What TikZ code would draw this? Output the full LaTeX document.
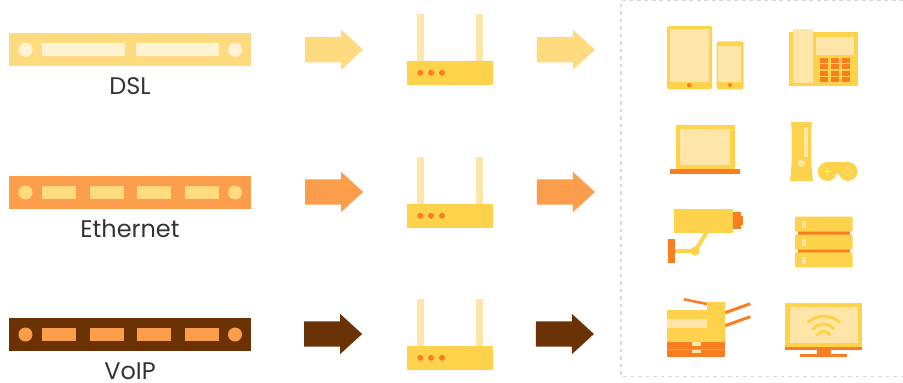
\documentclass[tikz,border=0pt]{standalone}
\usepackage{fontspec}
\setmainfont{Poppins}
\usepackage{tikz}
\usetikzlibrary{shapes.arrows}

\definecolor{sand}{HTML}{FFDA7F}
\definecolor{cream}{HTML}{FFF3D3}
\definecolor{pale}{HTML}{FFE6A8}
\definecolor{sun}{HTML}{FFD24C}
\definecolor{tangerine}{HTML}{FB9D4A}
\definecolor{rust}{HTML}{F97D21}
\definecolor{umber}{HTML}{6B3206}
\definecolor{ink}{HTML}{333333}

\tikzset{
	barbox/.style={rectangle,inner sep=0,minimum width=242pt,minimum height=33pt,fill=#1},
	slotbox/.style={rectangle,inner sep=0,minimum height=13pt,fill=#1},
	hole/.style={circle,inner sep=0,minimum size=14pt,fill=#1},
	barlabel/.style={text=ink,font=\fontsize{24}{24}\selectfont,inner sep=0,node distance=36.3pt},
	flow/.style={single arrow,inner xsep=0,inner ysep=12.5pt,minimum height=58pt,minimum width=40pt,
		single arrow head extend=7.5pt,single arrow tip angle=85,fill=#1},
}

\begin{document}
\begin{tikzpicture}[x=1pt,y=-1pt]
	\useasboundingbox (0,0) rectangle (903,383);

	% dashed frame
	\draw[black!15,line width=1.5pt,dash pattern=on 3.7pt off 3.8pt] (903,0.7) -- (621,0.7) -- (621,376.7) -- (903,376.7);

	% DSL
	\node[barbox=sand] (barDSL) at (130,49.5) {};
	\node[barlabel,below of=barDSL] (labDSL) {DSL};
	\node[hole=cream] (holeDSLa) at (25.5,49.7) {};
	\node[hole=cream] (holeDSLb) at (235,49.7) {};
	\node[slotbox=cream,minimum width=83pt] (slotDSLa) at (83.5,49.7) {};
	\node[slotbox=cream,minimum width=83pt] (slotDSLb) at (177.5,49.7) {};

	% Ethernet
	\node[barbox=tangerine] (barEth) at (130,192.5) {};
	\node[barlabel,below of=barEth] (labEth) {Ethernet};
	\node[hole=sand] (holeEtha) at (25.5,192.5) {};
	\node[hole=sand] (holeEthb) at (235,192.5) {};

	% VoIP
	\node[barbox=umber] (barVoIP) at (130,334.5) {};
	\node[barlabel,below of=barVoIP] (labVoIP) {VoIP};
	\node[hole=tangerine] (holeVoIPa) at (25.5,334.5) {};
	\node[hole=tangerine] (holeVoIPb) at (235,334.5) {};

	\foreach \slotx in {59,107,154,202} {
		\node[slotbox=sand,minimum width=34pt] (slotEth\slotx) at (\slotx,192.5) {};
		\node[slotbox=tangerine,minimum width=34pt] (slotVoIP\slotx) at (\slotx,334.5) {};
	}

	% arrows either side of the routers
	\node[flow=sand] (inDSL) at (327.2,49.7) {};
	\node[flow=sand] (outDSL) at (559,49.7) {};
	\node[flow=tangerine] (inEth) at (327.2,192) {};
	\node[flow=tangerine] (outEth) at (559,192) {};
	\node[flow=umber] (inVoIP) at (326.2,334) {};
	\node[flow=umber] (outVoIP) at (558,334) {};

	% routers
	\foreach \rowy in {0,143,285} {
		\begin{scope}[shift={(0,\rowy)}]
			\fill[pale] (417,13.5) rectangle (424,61);
			\fill[pale] (476,13.5) rectangle (483,61);
			\fill[sun] (407,61) rectangle (493,85);
			\foreach \dotx in {420.3,431,442}
				\fill[rust] (\dotx,72.8) circle (3pt);
		\end{scope}
	}

	% tablet and phone
	\fill[sun,rounded corners=1.5pt] (667,26) rectangle (712,89.3);
	\fill[pale] (670,29) rectangle (709,82);
	\fill[rust] (689.3,85.3) circle (2.3pt);
	\fill[sun,rounded corners=1.5pt] (716.7,41.3) rectangle (743.7,89.3);
	\fill[pale] (718,46) rectangle (741,82);
	\fill[rust] (730,85) circle (2pt);

	% desk phone
	\fill[sun] (789,32) rectangle (858,86);
	\fill[pale] (793,29) rectangle (813,83);
	\fill[pale] (816,37) rectangle (854,55);
	\foreach \keyx in {820,831,842}
		\foreach \keyy/\keyh in {58/5.3,64/5,71/5,77/5}
			\fill[rust] (\keyx,\keyy) rectangle ++(8,\keyh);

	% laptop
	\fill[sun] (676,125) rectangle (735,169);
	\fill[pale] (680,129) rectangle (730,165);
	\fill[rust] (670,169) rectangle (740,174);

	% console and gamepad
	\fill[sun] (791,122) -- (812,122) .. controls (810.5,140) and (810.5,160) .. (813,181)
		-- (790,181) .. controls (792.5,160) and (792.5,140) .. (791,122) -- cycle;
	\fill[pale] (804,127) rectangle (808,157);
	\fill[pale] (801.3,163.3) circle (3.6pt);
	\fill[sun] (827.3,171.5) circle (9.5pt);
	\fill[sun] (848,171.5) circle (9.5pt);
	\fill[sun] (827.3,162) rectangle (848,173.5);
	\fill[pale] (823,170.8) rectangle (831.6,172);
	\fill[pale] (826.7,167) rectangle (827.9,175.8);
	\foreach \padx/\pady in {848/168,848/175.5,844.3/172,851.7/172}
		\fill[pale] (\padx,\pady) circle (1.4pt);

	% camera
	\fill[rust] (733,212) rectangle (741,229);
	\fill[rust] (741,216) rectangle (743,225);
	\fill[sun] (674,209) rectangle (733,232.7);
	\fill[rust] (668,239) rectangle (675,263);
	\fill[sun] (675,248.8) rectangle (695,253.2);
	\draw[sun,line width=4pt] (695,251) -- (707,232);
	\fill[sun] (695,251) circle (4.7pt);

	% server
	\fill[rust] (798,231) rectangle (850,235.5);
	\fill[rust] (798,249) rectangle (850,253);
	\foreach \srvy in {216.7,234.7,252.3} {
		\fill[sun,rounded corners=0.7pt] (795,\srvy) rectangle ++(57.7,15);
		\fill[pale] (802,\srvy+4.3) rectangle ++(4,7);
	}

	% printer
	\draw[rust,line width=2.5pt] (683.7,299.3) -- (707,304);
	\draw[rust,line width=3pt] (725,312.7) -- (750.3,303.7);
	\draw[rust,line width=3pt] (725,325.7) -- (750.3,316.7);
	\fill[sun] (667,310) -- (707,310) -- (707,302) -- (725.3,302) -- (725.3,342) -- (667,342) -- cycle;
	\fill[pale] (667,319) rectangle (707,328);
	\fill[rust] (667,342) rectangle (725.3,357);
	\fill[tangerine] (667,348.5) rectangle (725.3,350);
	\fill[pale] (692,342) rectangle (701,346);
	\fill[pale] (692,349.5) rectangle (701,353);

	% television
	\fill[sun] (785,303) rectangle (862,347);
	\fill[pale] (790,307) rectangle (858,343);
	\fill[rust] (785,347) rectangle (862,350);
	\fill[rust] (817,350) rectangle (831,354);
	\fill[rust] (800,354) rectangle (847,357);
	\draw[sun,line width=3.3pt,line cap=round] (808.5,322) .. controls (816,314.5) and (831,314.5) .. (839.5,322);
	\draw[sun,line width=3.3pt,line cap=round] (813,329) .. controls (819,322.5) and (828,322.5) .. (834,329);
	\draw[sun,line width=3.3pt,line cap=round] (817.5,335) .. controls (821,330) and (826,330) .. (830,335);
\end{tikzpicture}
\end{document}
